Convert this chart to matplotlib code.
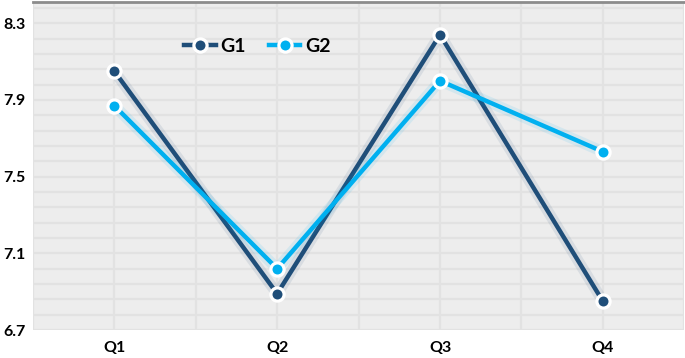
import matplotlib
matplotlib.use("Agg")
import matplotlib.pyplot as plt
import matplotlib.patheffects as pe
from matplotlib.lines import Line2D
import numpy as np

categories = ["Q1", "Q2", "Q3", "Q4"]
g1 = [8.05, 6.89, 8.24, 6.85]
g2 = [7.87, 7.02, 8.00, 7.63]
yticks = [6.7, 7.1, 7.5, 7.9, 8.3]

plt.rcParams['font.family'] = ['Lato', 'DejaVu Sans']

fig = plt.figure(figsize=(6.85, 3.58), dpi=100)
ax = fig.add_axes([0.048, 0.078, 0.951, 0.916])
ax.set_facecolor('#EDEDED')

x = np.arange(len(categories))
ax.set_xlim(-0.5, 3.5)
ax.set_ylim(6.7, 8.41)

# grid
for gx in np.arange(-0.5, 3.51, 0.5):
    ax.axvline(gx, color='#E2E2E2', lw=1.6, zorder=1)
for gy in np.arange(6.7, 8.41, 0.08):
    ax.axhline(gy, color='#E2E2E2', lw=1.6, zorder=1)

colors = ['#1F4E79', '#00B0F0']
handles = []
for vals, c, lab in [(g1, colors[0], 'G1'), (g2, colors[1], 'G2')]:
    ax.plot(x, vals, color=c, lw=3.2, zorder=3,
            path_effects=[pe.Stroke(linewidth=8, foreground=c, alpha=0.1), pe.Normal()])
    ax.plot(x, vals, linestyle='none', marker='o', markersize=9.5,
            markerfacecolor=c, markeredgecolor='white', markeredgewidth=2.3, zorder=4)
    handles.append(Line2D([], [], color=c, lw=3.2, marker='o', markersize=9.5,
                          markerfacecolor=c, markeredgecolor='white',
                          markeredgewidth=2.3, label=lab))

ax.set_xticks(x)
ax.set_xticklabels(categories, fontsize=11.5, fontweight='bold')
ax.set_yticks(yticks)
ax.set_yticklabels([f"{v:.1f}" for v in yticks], fontsize=11.5, fontweight='bold')
ax.tick_params(length=0, pad=8)
ax.tick_params(axis='y', pad=5)

for s in ['left', 'right', 'bottom']:
    ax.spines[s].set_visible(False)
ax.spines['top'].set_color('#8C8C8C')
ax.spines['top'].set_linewidth(2)

leg = ax.legend(handles=handles, loc='center', bbox_to_anchor=(0.345, 0.865), ncol=2,
                frameon=False, prop={'size': 14, 'weight': 'bold'}, handlelength=1.6,
                columnspacing=1.2, handletextpad=0.25)

fig.savefig('out.png', dpi=100)
